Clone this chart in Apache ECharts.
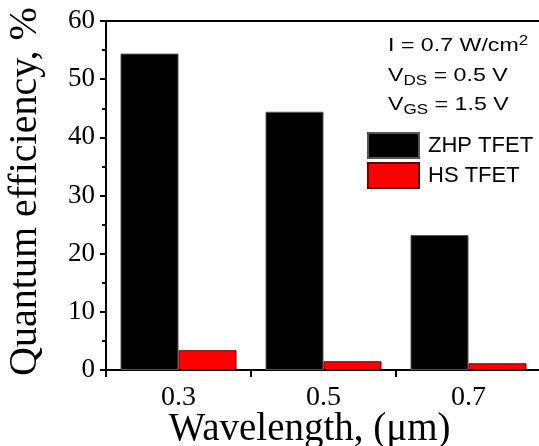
<!DOCTYPE html>
<html>
<head>
<meta charset="utf-8">
<script src="https://cdn.jsdelivr.net/npm/echarts@6/dist/echarts.min.js"></script>
<style>
html,body{margin:0;padding:0;background:#fff;}
#chart{width:539px;height:446px;}
</style>
</head>
<body>
<div id="chart"></div>
<script>
var wavelengths=['0.3','0.5','0.7'];
var zhpTfet=[54.4,44.4,23.2];
var hsTfet=[3.4,1.5,1.15];
var yTicks=[0,60,10];

var chart=echarts.init(document.getElementById('chart'));
var serif='Liberation Serif';
var sans='Liberation Sans';

// the annotation text in the picture is a bit wider than plain Arial
function note(txt,y){
    return {
        type:'text',
        x:388,
        y:y,
        scaleX:1.22,
        style:{
            text:txt,
            rich:{
                sup:{fontFamily:sans,fontSize:14,color:'#000',padding:[0,0,10,0]},
                sub:{fontFamily:sans,fontSize:14,color:'#000',padding:[10,0,0,0]}
            },
            fontFamily:sans,fontSize:19,fill:'#000'
        }
    };
}

var option={
    animation:false,
    backgroundColor:'#fff',
    grid:{
        left:106,
        top:21,
        width:435,
        height:349,
        show:true,
        borderColor:'#000',
        borderWidth:2,
        containLabel:false,
        outerBoundsMode:'none'
    },
    legend:{
        orient:'vertical',
        left:367,
        top:132,
        padding:0,
        itemWidth:51,
        itemHeight:25,
        itemGap:3,
        icon:'rect',
        textStyle:{fontFamily:sans,fontSize:22,color:'#000',padding:[0,0,0,4]},
        data:['ZHP TFET','HS TFET']
    },
    xAxis:{
        type:'category',
        data:wavelengths,
        axisLine:{lineStyle:{color:'#000',width:2}},
        axisTick:{show:true,length:7,lineStyle:{color:'#000',width:2}},
        axisLabel:{fontFamily:serif,fontSize:28,color:'#000',margin:14},
        name:'Wavelength, (\u03bcm)',
        nameLocation:'middle',
        nameGap:40,
        nameMoveOverlap:false,
        nameTextStyle:{fontFamily:serif,fontSize:39,color:'#000',padding:[0,28,0,0]}
    },
    yAxis:{
        type:'value',
        min:yTicks[0],
        max:yTicks[1],
        interval:yTicks[2],
        splitLine:{show:false},
        axisLine:{show:true,lineStyle:{color:'#000',width:2}},
        axisTick:{show:true,length:6,lineStyle:{color:'#000',width:2}},
        minorTick:{show:true,splitNumber:2,length:4,lineStyle:{color:'#000',width:2}},
        axisLabel:{fontFamily:serif,fontSize:27,color:'#000',margin:11},
        name:'Quantum efficiency, %',
        nameLocation:'middle',
        nameGap:61,
        nameMoveOverlap:false,
        nameTextStyle:{fontFamily:serif,fontSize:40,color:'#000',padding:[0,0,0,8]}
    },
    series:[
        {
            name:'ZHP TFET',
            type:'bar',
            data:zhpTfet,
            barWidth:58,
            barGap:'0%',
            itemStyle:{color:'#000',borderColor:'#555',borderWidth:1}
        },
        {
            name:'HS TFET',
            type:'bar',
            data:hsTfet,
            barWidth:58,
            barGap:'0%',
            itemStyle:{color:'#ff0000',borderColor:'#600',borderWidth:1}
        }
    ],
    graphic:[
        note('I = 0.7 W/cm{sup|2}',34),
        note('V{sub|DS} = 0.5 V',64),
        note('V{sub|GS} = 1.5 V',93)
    ]
};
chart.setOption(option);
</script>
</body>
</html>
